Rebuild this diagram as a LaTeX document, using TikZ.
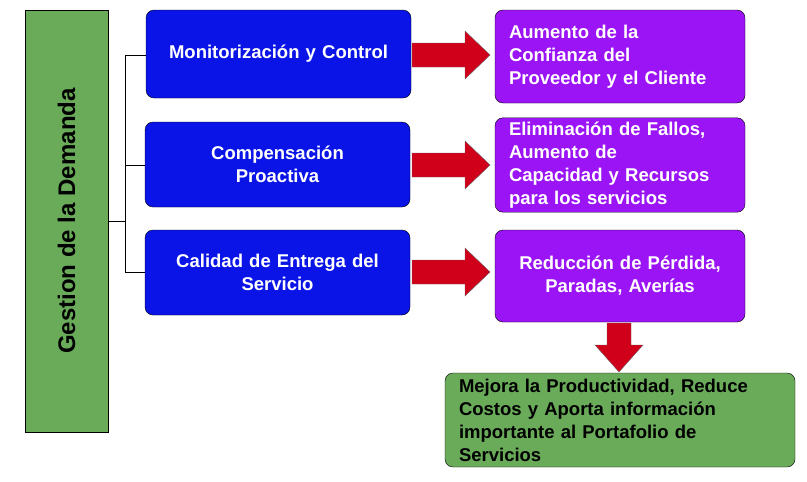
\documentclass[tikz,border=0pt]{standalone}
\usepackage{fontspec}
\setmainfont{Liberation Sans}
\definecolor{azul}{HTML}{0A14E6}
\definecolor{lila}{HTML}{9B14F5}
\definecolor{verde}{HTML}{6AAB5A}
\definecolor{rojo}{HTML}{D0001A}
\begin{document}
\begin{tikzpicture}[x=1pt,y=-1pt,
caja/.style={draw=black, rounded corners=8pt, inner sep=4pt, font=\bfseries\fontsize{18.5}{23}\selectfont},
azulcaja/.style={caja, fill=azul, text=white, align=center, minimum width=265pt, text width=255pt},
lilacaja/.style={caja, fill=lila, text=white, minimum width=250pt, text width=222pt},
flecha/.style={fill=rojo, draw=black!60},
]
\useasboundingbox (0,0) rectangle (807,482);

\fill[verde] (25,10) rectangle (108,432);
\draw (25,10) rectangle (108,432);
\node[rotate=90, font=\bfseries\fontsize{24}{28}\selectfont] (gd) at (66.5,221) {Gestion de la Demanda};

% cajas azules
\node[azulcaja, minimum height=88pt] (mc) at (278.5,54) {Monitorización y Control};
\node[azulcaja, minimum height=85pt] (cp) at (277.5,164.5) {Compensación\\Proactiva};
\node[azulcaja, minimum height=85pt] (ce) at (277.5,272.5) {Calidad de Entrega del\\Servicio};

% cajas lila
\node[lilacaja, minimum height=93pt, align=left] (ac) at (620,56.5) {Aumento de la\\Confianza del\\Proveedor y el Cliente};
\node[lilacaja, minimum height=94pt, align=left] (ef) at (620,165) {Eliminación de Fallos,\\Aumento de\\Capacidad y Recursos\\para los servicios};
\node[lilacaja, minimum height=92pt, align=center] (rp) at (620,276) {Reducción de Pérdida,\\Paradas, Averías};

\node[caja, fill=verde, minimum width=350pt, text width=322pt, minimum height=94pt, align=left] (mp) at (620,420) {Mejora la Productividad, Reduce\\Costos y Aporta información\\importante al Portafolio de\\Servicios};

% llaves
\draw (108,221) -- (125,221);
\draw (125,55) -- (125,272);
\draw (125,55) -- (mc.west |- 0,55);
\draw (125,165) -- (cp.west |- 0,165);
\draw (125,272) -- (ce.west |- 0,272);

% flechas
\foreach \y in {55,165,272}
  \draw[flecha] (412,\y-12) -- (465,\y-12) -- (465,\y-24) -- (490,\y) -- (465,\y+24) -- (465,\y+12) -- (412,\y+12) -- cycle;
\draw[flecha] (607,323) -- (631,323) -- (631,345) -- (643,345) -- (619,372) -- (595,345) -- (607,345) -- cycle;
\end{tikzpicture}
\end{document}
